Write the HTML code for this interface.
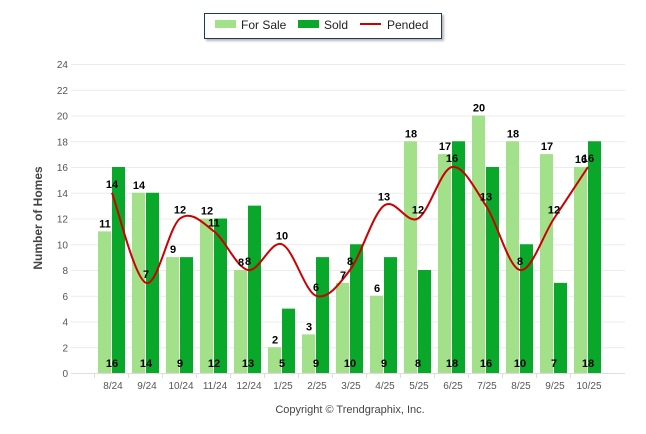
<!DOCTYPE html>
<html><head><meta charset="utf-8"><style>
body{margin:0;background:#fff;font-family:"Liberation Sans",sans-serif;}
svg{display:block}
</style></head><body>
<svg id="c" width="646" height="434" xmlns="http://www.w3.org/2000/svg">
<defs><filter id="sh" x="-5%" y="-20%" width="115%" height="160%"><feDropShadow dx="2" dy="2" stdDeviation="1" flood-color="#888" flood-opacity="0.6"/></filter></defs>
<g>
<rect x="204.5" y="13.5" width="237" height="25" fill="#fff" stroke="#1f3864" stroke-width="1" filter="url(#sh)"/>
<rect x="215" y="20" width="21" height="8" fill="#a3e08a"/>
<text x="241" y="29" font-size="12" fill="#222">For Sale</text>
<rect x="298" y="20" width="21" height="8" fill="#0aa82a"/>
<text x="324" y="29" font-size="12" fill="#222">Sold</text>
<line x1="360" y1="24" x2="381" y2="24" stroke="#cc0000" stroke-width="2"/>
<text x="387" y="29" font-size="12" fill="#222">Pended</text>
</g>
<text transform="translate(42,218) rotate(-90)" text-anchor="middle" font-size="12" font-weight="bold" fill="#444">Number of Homes</text>
<text x="350" y="413" text-anchor="middle" font-size="11" fill="#444">Copyright © Trendgraphix, Inc.</text>
<g id="grid"></g><g id="bars"></g><g id="line"></g><g id="labels"></g>
</svg>
<script>
const categories=["8/24","9/24","10/24","11/24","12/24","1/25","2/25","3/25","4/25","5/25","6/25","7/25","8/25","9/25","10/25"];
const forSale=[11,14,9,12,8,2,3,7,6,18,17,20,18,17,16];
const sold=[16,14,9,12,13,5,9,10,9,8,18,16,10,7,18];
const pended=[14,7,12,11,8,10,6,8,13,12,16,13,8,12,16];
const yTicks=[0,2,4,6,8,10,12,14,16,18,20,22,24];
const NS="http://www.w3.org/2000/svg";
const y0=373,yTop=64,yMax=24;
const yS=v=>y0-(y0-yTop)*v/yMax;
const xC=i=>111+34*i;
function mk(t,a,p){const e=document.createElementNS(NS,t);for(const k in a)e.setAttribute(k,a[k]);document.getElementById(p).appendChild(e);return e;}
yTicks.forEach(v=>{
 const l=mk('line',{x1:71,x2:625,y1:yS(v)+0.5,y2:yS(v)+0.5,stroke:v===0?'#ddd':'#ececec'},'grid');
 
 
 const t=mk('text',{x:68,y:yS(v)+4,'text-anchor':'end','font-size':10,fill:'#555'},'grid');t.textContent=v;
 
 
});
categories.forEach((c,i)=>{
 const t=mk('text',{x:xC(i)+2,y:389,'text-anchor':'middle','font-size':10,fill:'#555'},'grid');t.textContent=c;
 
 
 const tk=mk('line',{x1:xC(i)-17+0.5,x2:xC(i)-17+0.5,y1:373,y2:378,stroke:'#ddd'},'grid');
 
 
 const b1=mk('rect',{x:xC(i)-13,y:yS(forSale[i]),width:13,height:y0-yS(forSale[i]),fill:'#a3e08a'},'bars');
 
 
 const b2=mk('rect',{x:xC(i)+1,y:yS(sold[i]),width:13,height:y0-yS(sold[i]),fill:'#0aa82a'},'bars');
 
 
 const l1=mk('text',{x:xC(i)-6,y:yS(forSale[i])-4,'text-anchor':'middle','font-size':11,'font-weight':'bold',fill:'#000'},'labels');l1.textContent=forSale[i];
 
 
 const l2=mk('text',{x:xC(i)+1,y:367,'text-anchor':'middle','font-size':11,'font-weight':'bold',fill:'#000'},'labels');l2.textContent=sold[i];
 
 
 const l3=mk('text',{x:xC(i)+1,y:yS(pended[i])-5,'text-anchor':'middle','font-size':11,'font-weight':'bold',fill:'#000'},'labels');l3.textContent=pended[i];
 
 
});
// smooth monotone-ish cardinal spline
const pts=pended.map((v,i)=>[xC(i)+1,yS(v)]);
let d='M'+pts[0][0]+','+pts[0][1];
for(let i=0;i<pts.length-1;i++){
 const p0=pts[Math.max(0,i-1)],p1=pts[i],p2=pts[i+1],p3=pts[Math.min(pts.length-1,i+2)];
 const t=0.25;
 const c1=[p1[0]+(p2[0]-p0[0])*t/1.5,p1[1]+(p2[1]-p0[1])*t/1.5];
 const c2=[p2[0]-(p3[0]-p1[0])*t/1.5,p2[1]-(p3[1]-p1[1])*t/1.5];
 d+=` C${c1[0]},${c1[1]} ${c2[0]},${c2[1]} ${p2[0]},${p2[1]}`;
}
const ln=mk('path',{d:d,fill:'none',stroke:'#cc0000','stroke-width':2},'line');


</script>
</body></html>
